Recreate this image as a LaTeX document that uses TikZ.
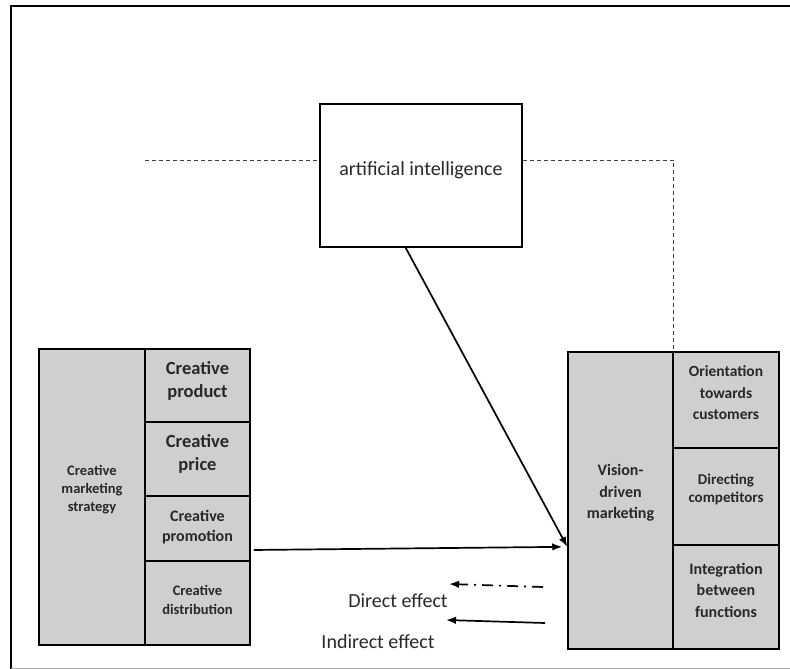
\documentclass[tikz,border=0pt]{standalone}
\usepackage{fontspec}
\setmainfont{Carlito}
\usepackage{xcolor}
\usepackage{tikz}
\usetikzlibrary{arrows,arrows.meta}

\definecolor{boxgray}{RGB}{208,206,206}
\definecolor{framegray}{RGB}{170,170,170}
\definecolor{textgray}{RGB}{40,40,40}

\begin{document}
\begin{tikzpicture}[x=1pt,y=-1pt]
                \tikzstyle{every node}+=[inner sep=0pt]
                \tikzstyle{box}=[draw=black, line width=1.5pt, fill=boxgray]
                \tikzstyle{boxtext}=[align=center, text=textgray]
                \tikzstyle{effect}=[black, line width=1.7pt, -{Latex[length=10pt,width=7.5pt]}]
                \tikzstyle{ailine}=[black!75, line width=0.9pt, dash pattern=on 4pt off 3pt]
                \useasboundingbox (0,0) rectangle (790,669);
                \draw [black, line width=2pt] (11,669) -- (11,6) -- (790,6);
                \draw [framegray, line width=1pt] (11,668) -- (790,668);
                \node (ai) at (421,175.5) [draw=black, line width=1.5pt, fill=white, minimum width=202pt, minimum height=143pt,
                    label={[boxtext, yshift=5.5pt, font=\fontsize{20}{24}\selectfont]center:artificial intelligence}] {};
                % creative marketing strategy
                \node (cms) at (92,497) [box, minimum width=106pt, minimum height=296pt,
                    label={[boxtext, yshift=7pt, font=\fontsize{14.5}{18}\selectfont\bfseries]center:{Creative\\marketing\\strategy}}] {};
                \node (prod) at (197.5,385.5) [box, minimum width=105pt, minimum height=73pt,
                    label={[boxtext, yshift=4.5pt, font=\fontsize{18.5}{23}\selectfont\bfseries]center:{Creative\\product}}] {};
                \node (price) at (197.5,459) [box, minimum width=105pt, minimum height=74pt,
                    label={[boxtext, yshift=5pt, font=\fontsize{18.5}{23}\selectfont\bfseries]center:{Creative\\price}}] {};
                \node (prom) at (197.5,528.5) [box, minimum width=105pt, minimum height=65pt,
                    label={[boxtext, yshift=1.5pt, font=\fontsize{16}{20}\selectfont\bfseries]center:{Creative\\promotion}}] {};
                \node (dist) at (197.5,603) [box, minimum width=105pt, minimum height=84pt,
                    label={[boxtext, yshift=3pt, font=\fontsize{14.5}{19}\selectfont\bfseries]center:{Creative\\distribution}}] {};
                % vision-driven marketing
                \node (vis) at (620.5,500.5) [box, minimum width=105pt, minimum height=297pt,
                    label={[boxtext, yshift=7.5pt, font=\fontsize{16}{21.5}\selectfont\bfseries]center:{Vision-\\driven\\marketing}}] {};
                \node (cust) at (726,400) [box, minimum width=106pt, minimum height=96pt,
                    label={[boxtext, yshift=7pt, font=\fontsize{15.5}{21.5}\selectfont\bfseries]center:{Orientation\\towards\\customers}}] {};
                \node (comp) at (726,496.5) [box, minimum width=106pt, minimum height=97pt,
                    label={[boxtext, yshift=7.5pt, font=\fontsize{15}{18}\selectfont\bfseries]center:{Directing\\competitors}}] {};
                \node (integ) at (726,597) [box, minimum width=106pt, minimum height=104pt,
                    label={[boxtext, yshift=7pt, font=\fontsize{16}{21.5}\selectfont\bfseries]center:{Integration\\between\\functions}}] {};
                % dashed link of the AI box
                \coordinate (dl) at (145,160);
                \draw [ailine] (dl) -- (dl -| ai.west);
                \draw [ailine] (dl -| ai.east) -- (dl -| vis.east) -- (vis.north east);
                % effects
                \draw [effect] (ai.-102) -- (vis.221);
                \draw [effect, shorten <=3pt, shorten >=5pt] (prom.-22) -- (vis.221);
                % legend
                \coordinate (d1) at (543,587);
                \coordinate (d2) at (449,584);
                \coordinate (i1) at (545,623);
                \coordinate (i2) at (446,620);
                \draw [effect, dash pattern=on 11pt off 6pt on 2pt off 6pt] (d1) -- (d2);
                \draw [effect] (i1) -- (i2);
                \node (direct) at (398,601) [text=textgray, font=\fontsize{20}{24}\selectfont] {Direct effect};
                \node (indirect) at (378,642) [text=textgray, font=\fontsize{20}{24}\selectfont] {Indirect effect};
            \end{tikzpicture}
\end{document}
